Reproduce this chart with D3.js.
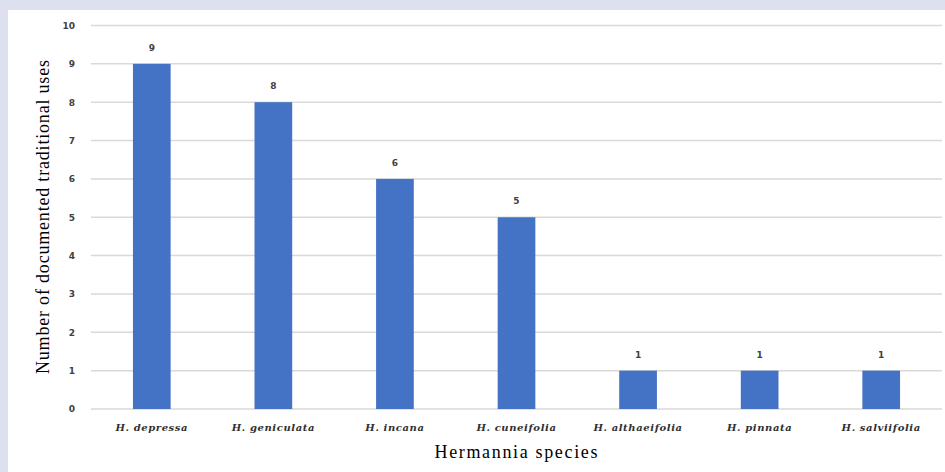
<!DOCTYPE html>
<html>
<head>
<meta charset="utf-8">
<script src="https://cdn.jsdelivr.net/npm/d3@7"></script>
<style>
  html, body { margin: 0; padding: 0; background: #dde0ef; }
  svg { display: block; }
</style>
</head>
<body>
<svg id="chart" width="945" height="472"></svg>
<script>
// Traditional uses documented per Hermannia species
const species = ["H. depressa", "H. geniculata", "H. incana", "H. cuneifolia", "H. althaeifolia", "H. pinnata", "H. salviifolia"];
const uses = [9, 8, 6, 5, 1, 1, 1];
const yTicks = [0, 1, 2, 3, 4, 5, 6, 7, 8, 9, 10];

const svg = d3.select("#chart");
const W = 945, H = 472;

// white chart panel
svg.append("rect").attr("x", 8).attr("y", 10).attr("width", W - 8).attr("height", H - 10).attr("fill", "#ffffff");

const plot = { left: 91, right: 942, top: 25.5, bottom: 409 };

const x = d3.scaleBand().domain(species).range([plot.left, plot.right]).paddingInner(0.69).paddingOuter(0.345);
const y = d3.scaleLinear().domain([0, 10]).range([plot.bottom, plot.top]);

// gridlines
svg.append("g").selectAll("line").data(yTicks).join("line")
  .attr("x1", plot.left).attr("x2", plot.right)
  .attr("y1", d => y(d)).attr("y2", d => y(d))
  .attr("stroke", "#d9d9d9").attr("stroke-width", 1.5);

// y tick labels
const yAxis = d3.axisLeft(y).tickValues(yTicks).tickSize(0).tickPadding(0);
const gy = svg.append("g").attr("transform", `translate(75,0)`).call(yAxis);
gy.select(".domain").remove();
gy.selectAll("text")
  .attr("font-family", "'DejaVu Sans', sans-serif").attr("font-size", 9).attr("font-weight", "bold")
  .attr("fill", "#404040");

// bars
svg.append("g").selectAll("rect").data(species).join("rect")
  .attr("x", d => x(d)).attr("width", x.bandwidth())
  .attr("y", (d, i) => y(uses[i])).attr("height", (d, i) => y(0) - y(uses[i]))
  .attr("fill", "#4472c4");

// value labels
svg.append("g").selectAll("text").data(species).join("text")
  .attr("x", d => x(d) + x.bandwidth() / 2)
  .attr("y", (d, i) => y(uses[i]) - 13)
  .attr("text-anchor", "middle")
  .attr("font-family", "'DejaVu Sans', sans-serif").attr("font-size", 9).attr("font-weight", "bold")
  .attr("fill", "#404040")
  .text((d, i) => uses[i]);

// category labels
const xAxis = d3.axisBottom(x).tickSize(0).tickPadding(0);
const gx = svg.append("g").attr("transform", `translate(0,${plot.bottom + 22})`).call(xAxis);
gx.select(".domain").remove();
gx.selectAll("text")
  .attr("dy", 0)
  .attr("font-family", "'DejaVu Serif', serif").attr("font-size", 10).attr("font-weight", "bold").attr("font-style", "italic")
  .attr("letter-spacing", 0.6)
  .attr("fill", "#303030");

// axis titles
svg.append("text")
  .attr("x", 516).attr("y", 458)
  .attr("text-anchor", "middle")
  .attr("font-family", "'Liberation Serif', serif").attr("font-size", 18)
  .attr("textLength", 163).attr("lengthAdjust", "spacing")
  .attr("fill", "#000").text("Hermannia species");

svg.append("text")
  .attr("transform", `translate(49,217) rotate(-90)`)
  .attr("text-anchor", "middle")
  .attr("font-family", "'Liberation Serif', serif").attr("font-size", 18)
  .attr("textLength", 314).attr("lengthAdjust", "spacing")
  .attr("fill", "#000").text("Number of documented traditional uses");
</script>
</body>
</html>
